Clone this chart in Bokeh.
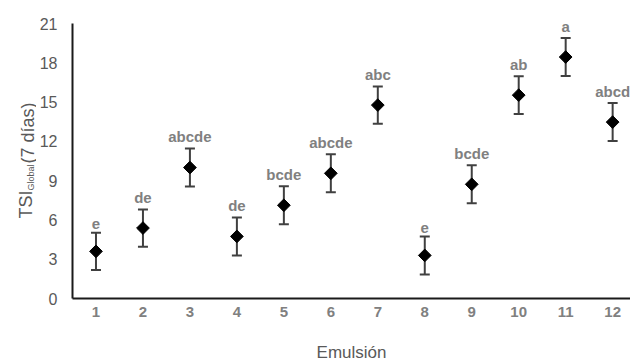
import math
from bokeh.plotting import figure
from bokeh.layouts import row
from bokeh.models import ColumnDataSource, Whisker, TeeHead, FixedTicker, Label, Title
from bokeh.core.properties import value
from bokeh.embed import file_html
from bokeh.resources import INLINE

emulsions = [1, 2, 3, 4, 5, 6, 7, 8, 9, 10, 11, 12]
tsi_mean = [3.6, 5.38, 10.0, 4.74, 7.12, 9.56, 14.77, 3.29, 8.72, 15.53, 18.44, 13.47]
tsi_err = [1.42, 1.42, 1.45, 1.45, 1.45, 1.45, 1.42, 1.45, 1.45, 1.45, 1.45, 1.45]
letters = ["e", "de", "abcde", "de", "bcde", "abcde", "abc", "e", "bcde", "ab", "a", "abcd"]
y_ticks = [0, 3, 6, 9, 12, 15, 18, 21]
x_title = "Emulsión"
y_title_main = "TSI"
y_title_sub = "Global"
y_title_rest = "(7 días)"

FONT = "Liberation Sans"
GRAY_DARK = "#595959"
GRAY = "#808080"

upper = [m + e for m, e in zip(tsi_mean, tsi_err)]
lower = [m - e for m, e in zip(tsi_mean, tsi_err)]
label_y = [u + 0.25 for u in upper]

src = ColumnDataSource(dict(x=emulsions, y=tsi_mean, upper=upper, lower=lower,
                            label=letters, ly=label_y))

# ---- main chart ----
p = figure(width=594, height=362, output_backend="svg", toolbar_location=None,
           x_range=(0.5, 12.38), y_range=(0, 21),
           min_border_left=35, min_border_right=0, min_border_top=23, min_border_bottom=64)

p.outline_line_color = None
p.xgrid.grid_line_color = None
p.ygrid.grid_line_color = None
p.background_fill_color = "white"
p.border_fill_color = "white"

p.xaxis.ticker = FixedTicker(ticks=emulsions)
p.yaxis.ticker = FixedTicker(ticks=y_ticks)
for ax in (p.xaxis, p.yaxis):
    ax.major_tick_line_color = None
    ax.minor_tick_line_color = None
    ax.major_tick_out = 0
    ax.major_tick_in = 0
    ax.axis_line_color = "#1a1a1a"
    ax.axis_line_width = 2
    ax.major_label_text_font = FONT
p.xaxis.major_label_text_font_size = "15px"
p.xaxis.major_label_text_font_style = "bold"
p.xaxis.major_label_text_color = GRAY
p.xaxis.major_label_standoff = 8
p.yaxis.major_label_text_font_size = "16px"
p.yaxis.major_label_text_color = GRAY_DARK
p.yaxis.major_label_standoff = 15

w = Whisker(source=src, base="x", upper="upper", lower="lower",
            line_color="#404040", line_width=2,
            upper_head=TeeHead(size=10, line_color="#404040", line_width=2),
            lower_head=TeeHead(size=10, line_color="#404040", line_width=2))
p.add_layout(w)

p.scatter("x", "y", source=src, marker="square", angle=math.pi / 4, size=9,
          fill_color="black", line_color="black", line_width=1)

p.text("x", "ly", text="label", source=src, text_align="center", text_baseline="bottom",
       text_font=value(FONT), text_font_size="15px", text_font_style="bold",
       text_color=GRAY)

# spacer between the x axis and its title, then the title shifted right like the reference
p.add_layout(Title(text=" ", text_font_size="1px", standoff=18), "below")
p.add_layout(Title(text=x_title, align="center", offset=27, standoff=0,
                   text_font=FONT, text_font_size="17px", text_font_style="normal",
                   text_color=GRAY_DARK), "below")

# ---- y-axis title panel (frame aligned with main frame: 23..298) ----
yt = figure(width=36, height=362, output_backend="svg", toolbar_location=None,
            x_axis_type=None, y_axis_type=None, x_range=(0, 1), y_range=(0, 1),
            min_border=0)
yt.outline_line_color = None
yt.grid.visible = False
yt.background_fill_color = "white"
yt.border_fill_color = "white"

common = dict(x_units="screen", y_units="screen", angle=math.pi / 2, text_align="left",
              text_baseline="alphabetic", text_font=FONT, text_color=GRAY_DARK)
yt.add_layout(Label(x=25, y=80, text=y_title_main, text_font_size="18px", **common))
yt.add_layout(Label(x=30, y=108, text=y_title_sub, text_font_size="9px", **common))
yt.add_layout(Label(x=27, y=135, text=y_title_rest, text_font_size="18px", **common))

layout = row(yt, p, spacing=0)

open("out.html", "w").write(file_html(layout, INLINE))
